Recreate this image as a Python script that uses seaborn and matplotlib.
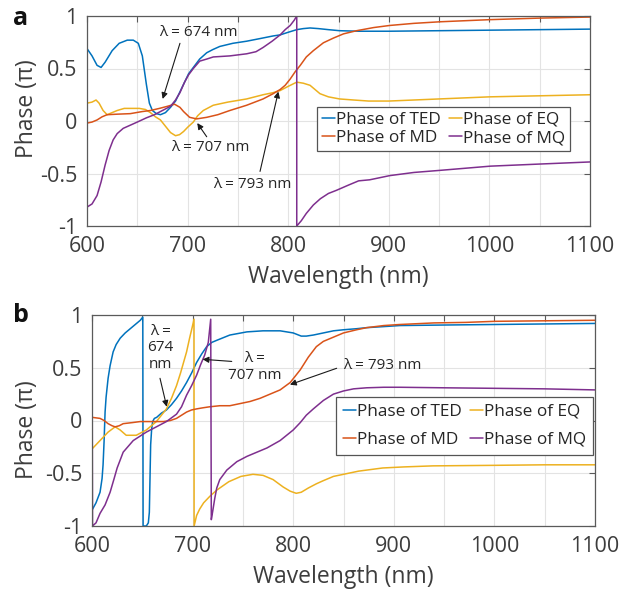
import numpy as np
import pandas as pd
import matplotlib
matplotlib.use("Agg")
import matplotlib.pyplot as plt
import seaborn as sns

# ---------------- panel a ----------------
a_ted_wl = [600, 605, 610, 614, 618, 625, 632, 640, 646, 651, 655, 659, 662, 665, 669, 673,
            678, 683, 688, 692, 697, 701, 705.7, 712, 719, 725, 732, 745, 758.7, 772, 785,
            792, 800, 808.5, 815, 821.7, 830, 840, 851, 870, 900, 950, 1000, 1050, 1100]
a_ted_ph = [0.69, 0.62, 0.53, 0.51, 0.56, 0.67, 0.74, 0.77, 0.77, 0.74, 0.62, 0.35, 0.17, 0.10,
            0.07, 0.06, 0.08, 0.13, 0.19, 0.27, 0.37, 0.45, 0.51, 0.59, 0.65, 0.68, 0.71, 0.74,
            0.76, 0.785, 0.81, 0.82, 0.845, 0.87, 0.88, 0.886, 0.88, 0.87, 0.86, 0.855, 0.855,
            0.86, 0.865, 0.87, 0.875]

a_eq_wl = [600, 605, 609, 612, 616, 620, 625, 630, 637, 645, 652, 658, 663, 668, 673, 678,
           683, 688, 692, 696, 700, 705.7, 710, 715.6, 725.5, 740, 758.7, 775, 785, 792,
           800, 808.5, 815, 821.7, 831.6, 840, 851, 865, 880, 900, 950, 1000, 1050, 1100]
a_eq_ph = [0.17, 0.18, 0.20, 0.17, 0.10, 0.06, 0.08, 0.10, 0.12, 0.12, 0.12, 0.11, 0.08, 0.04,
           0.01, -0.05, -0.11, -0.14, -0.13, -0.10, -0.06, -0.01, 0.05, 0.10, 0.15, 0.18, 0.21,
           0.25, 0.27, 0.29, 0.33, 0.37, 0.36, 0.34, 0.26, 0.23, 0.21, 0.20, 0.19, 0.19, 0.21,
           0.23, 0.24, 0.25]

a_md_wl = [600, 605, 610, 615, 620, 630, 643, 655, 663, 672, 680, 687, 692.4, 696, 702, 709,
           719, 730, 742, 758.7, 775, 785, 792, 797, 802, 807, 812, 818, 825, 835, 845, 855,
           868, 885, 901, 925, 951, 1000, 1050, 1100]
a_md_ph = [-0.02, -0.01, 0.01, 0.04, 0.06, 0.065, 0.07, 0.09, 0.10, 0.12, 0.14, 0.16, 0.13,
           0.09, 0.035, 0.02, 0.035, 0.06, 0.10, 0.15, 0.21, 0.26, 0.30, 0.34, 0.40, 0.47,
           0.53, 0.61, 0.67, 0.745, 0.79, 0.83, 0.86, 0.89, 0.91, 0.93, 0.945, 0.965, 0.98, 0.99]

a_mq_wl = [600, 605, 610, 614, 618, 622, 626, 630, 636, 643, 650, 659, 667, 673, 679, 683,
           688, 692.4, 697, 701, 705.7, 712, 719, 725.5, 742, 758.7, 768, 775, 784, 792, 797,
           802, 806, 808.5, 808.5, 813, 818, 825, 832, 840, 848, 860, 870, 881, 901, 925,
           951, 1001, 1050, 1100]
a_mq_ph = [-0.82, -0.79, -0.71, -0.58, -0.42, -0.28, -0.18, -0.12, -0.07, -0.04, -0.01, 0.03,
           0.06, 0.09, 0.12, 0.14, 0.20, 0.27, 0.37, 0.44, 0.50, 0.57, 0.59, 0.61, 0.62, 0.64,
           0.66, 0.70, 0.76, 0.82, 0.87, 0.91, 0.96, 1.0, -1.0, -0.95, -0.88, -0.80, -0.74,
           -0.69, -0.66, -0.61, -0.57, -0.56, -0.52, -0.49, -0.47, -0.43, -0.41, -0.39]

# ---------------- panel b ----------------
b_ted_wl = [600, 604, 608, 610, 611, 612, 613, 614, 616, 618, 621, 624, 628, 633, 638, 643,
            648, 650.5, 650.8, 654, 656, 657, 658.3, 659.3, 660.3, 662, 664.3, 669, 674, 679,
            684, 689, 694, 699, 704, 709, 714, 719, 724, 737, 754, 770, 787, 800, 808, 813,
            820, 830, 840, 850, 863, 873, 890, 906, 950, 1000, 1050, 1100]
b_ted_ph = [-0.85, -0.78, -0.68, -0.55, -0.42, -0.20, 0.08, 0.22, 0.40, 0.52, 0.65, 0.72,
            0.78, 0.83, 0.87, 0.91, 0.95, 0.98, -1.0, -1.0, -0.97, -0.87, -0.23, -0.08, -0.01,
            0.02, 0.03, 0.07, 0.10, 0.15, 0.21, 0.28, 0.36, 0.45, 0.55, 0.63, 0.70, 0.74, 0.76,
            0.81, 0.84, 0.85, 0.85, 0.83, 0.80, 0.80, 0.81, 0.83, 0.85, 0.86, 0.87, 0.88, 0.89,
            0.90, 0.905, 0.91, 0.915, 0.92]

b_eq_wl = [600, 608, 616, 623, 628, 634, 644, 654, 664, 669, 674, 679, 684, 688, 691, 694,
           697, 699.5, 701.4, 701.5, 704, 707, 711, 717, 724, 736, 748, 760, 770, 780, 790,
           797, 803, 808, 815, 823, 830, 840, 850, 865, 889, 910, 939, 1000, 1050, 1100]
b_eq_ph = [-0.27, -0.19, -0.11, -0.06, -0.09, -0.14, -0.14, -0.09, -0.01, 0.05, 0.11, 0.21,
           0.33, 0.45, 0.55, 0.65, 0.78, 0.88, 0.96, -1.0, -0.90, -0.84, -0.78, -0.72, -0.66,
           -0.58, -0.53, -0.51, -0.52, -0.56, -0.63, -0.67, -0.69, -0.68, -0.64, -0.60, -0.57,
           -0.53, -0.51, -0.48, -0.45, -0.44, -0.43, -0.425, -0.42, -0.42]

b_md_wl = [600, 608, 612, 616, 620, 623, 627, 631, 640, 648, 660, 671, 678, 684, 689, 694,
           699, 704, 710, 717, 727, 737, 747, 757, 767, 777, 787, 797, 807, 815, 823, 830,
           840, 850, 863, 873, 890, 906, 940, 972, 1000, 1050, 1100]
b_md_ph = [0.03, 0.02, 0.00, -0.03, -0.05, -0.06, -0.05, -0.03, -0.02, -0.01, -0.01, -0.01,
           0.00, 0.02, 0.05, 0.08, 0.10, 0.11, 0.12, 0.13, 0.14, 0.14, 0.16, 0.18, 0.21, 0.25,
           0.29, 0.36, 0.48, 0.60, 0.70, 0.75, 0.79, 0.83, 0.86, 0.88, 0.90, 0.91, 0.925, 0.93,
           0.94, 0.945, 0.95]

b_mq_wl = [600, 600.5, 604, 608, 613, 618, 622, 625, 631, 641, 654, 664, 674, 684, 689, 694,
           699, 704, 708, 712, 715.6, 718, 718.6, 720, 722, 724, 727, 734, 744, 754, 764, 774,
           787, 800, 807, 813, 820, 830, 840, 850, 860, 873, 890, 906, 950, 1000, 1050, 1100]
b_mq_ph = [0.99, -1.0, -0.97, -0.88, -0.80, -0.68, -0.55, -0.45, -0.30, -0.19, -0.11, -0.06,
           -0.01, 0.06, 0.13, 0.24, 0.33, 0.43, 0.53, 0.62, 0.74, 0.96, -0.94, -0.86, -0.74,
           -0.64, -0.56, -0.47, -0.39, -0.34, -0.30, -0.26, -0.19, -0.09, -0.02, 0.05, 0.11,
           0.19, 0.25, 0.28, 0.30, 0.31, 0.315, 0.315, 0.31, 0.305, 0.30, 0.29]

series_names = ["Phase of TED", "Phase of EQ", "Phase of MD", "Phase of MQ"]
series_colors = ["#0072BD", "#EDB120", "#D95319", "#7E2F8E"]

x_ticks = [600, 650, 700, 750, 800, 850, 900, 950, 1000, 1050, 1100]
x_ticklabels = ["600", "", "700", "", "800", "", "900", "", "1000", "", "1100"]
y_ticks = [-1, -0.5, 0, 0.5, 1]
y_ticklabels = ["-1", "-0.5", "0", "0.5", "1"]

sns.set_style("white")
plt.rcParams["font.family"] = ["Open Sans", "DejaVu Sans"]

TXT = "#3d3d3d"
EDGE = "#5a5a5a"

fig = plt.figure(figsize=(6.39, 5.93), dpi=100)
ax_a = fig.add_axes([87 / 639, 1 - 226 / 593, 503 / 639, 210 / 593])
ax_b = fig.add_axes([92 / 639, 1 - 526 / 593, 503 / 639, 211 / 593])


def draw_panel(ax, data):
    handles = []
    for (wl, ph), name, col in zip(data, series_names, series_colors):
        df = pd.DataFrame({"wl": wl, "ph": ph})
        sns.lineplot(data=df, x="wl", y="ph", sort=False, estimator=None, ax=ax,
                     color=col, linewidth=1.1, legend=False)
        handles.append(ax.lines[-1])
    ax.set_xlim(600, 1100)
    ax.set_ylim(-1, 1)
    ax.set_xticks(x_ticks)
    ax.set_xticklabels(x_ticklabels)
    ax.set_yticks(y_ticks)
    ax.set_yticklabels(y_ticklabels)
    ax.grid(True, color="#e3e3e3", linewidth=0.8)
    ax.set_axisbelow(True)
    ax.tick_params(direction="in", length=4, width=0.8, colors=EDGE, labelcolor=TXT,
                   labelsize=15.5, top=True, right=True, pad=7)
    for sp in ax.spines.values():
        sp.set_color(EDGE)
        sp.set_linewidth(0.9)
    ax.set_xlabel("Wavelength (nm)", fontsize=16.5, color=TXT, labelpad=6)
    ax.set_ylabel("Phase (π)", fontsize=16.5, color=TXT)
    return handles


ha = draw_panel(ax_a, [(a_ted_wl, a_ted_ph), (a_eq_wl, a_eq_ph),
                       (a_md_wl, a_md_ph), (a_mq_wl, a_mq_ph)])
hb = draw_panel(ax_b, [(b_ted_wl, b_ted_ph), (b_eq_wl, b_eq_ph),
                       (b_md_wl, b_md_ph), (b_mq_wl, b_mq_ph)])
ax_a.yaxis.set_label_coords(-0.095, 0.557)
ax_b.yaxis.set_label_coords(-0.105, 0.455)


def add_legend(ax, handles, anchor, spacing, pad):
    order = [0, 2, 1, 3]
    leg = ax.legend([handles[i] for i in order], [series_names[i] for i in order],
                    ncol=2, loc="upper left", bbox_to_anchor=anchor, fontsize=12.4,
                    handlelength=0.75, handletextpad=0.05, columnspacing=0.5,
                    labelspacing=spacing, borderpad=pad, borderaxespad=0,
                    frameon=True, fancybox=False, framealpha=1, edgecolor="#555555")
    leg.get_frame().set_linewidth(0.9)
    for t in leg.get_texts():
        t.set_color("#262626")


add_legend(ax_a, ha, (0.457, 0.568), 0.12, 0.3)
add_legend(ax_b, hb, (0.486, 0.613), 0.7, 0.4)

arrow = dict(arrowstyle="-|>", color="#1a1a1a", lw=0.8, mutation_scale=9,
             shrinkA=0, shrinkB=0)
ann_kw = dict(fontsize=11, color="#262626", ha="center", va="center")

# panel a callouts
ax_a.annotate("", xy=(675.2, 0.21), xytext=(692.4, 0.74), arrowprops=arrow)
ax_a.text(710.3, 0.84, "λ = 674 nm", **ann_kw)
ax_a.annotate("", xy=(709.6, -0.02), xytext=(719, -0.15), arrowprops=arrow)
ax_a.text(723, -0.257, "λ = 707 nm", **ann_kw)
ax_a.annotate("", xy=(790.2, 0.28), xytext=(772, -0.48), arrowprops=arrow)
ax_a.text(764.5, -0.60, "λ = 793 nm", **ann_kw)

# panel b callouts
ax_b.annotate("", xy=(674.3, 0.13), xytext=(667.6, 0.40), arrowprops=arrow)
ax_b.text(668.3, 0.69, "λ =\n674\nnm", linespacing=1.15, **ann_kw)
ax_b.annotate("", xy=(710, 0.58), xytext=(738.9, 0.56), arrowprops=arrow)
ax_b.text(762, 0.51, "λ =\n707 nm", linespacing=1.15, **ann_kw)
ax_b.annotate("", xy=(796.8, 0.34), xytext=(843.2, 0.495), arrowprops=arrow)
ax_b.text(888.8, 0.52, "λ = 793 nm", **ann_kw)

fig.text(12.7 / 639, 1 - 25 / 593, "a", fontsize=18, fontweight="bold", color="#111111",
         va="baseline", ha="left")
fig.text(12.7 / 639, 1 - 321.7 / 593, "b", fontsize=18, fontweight="bold", color="#111111",
         va="baseline", ha="left")

fig.savefig("out.png", dpi=100)
